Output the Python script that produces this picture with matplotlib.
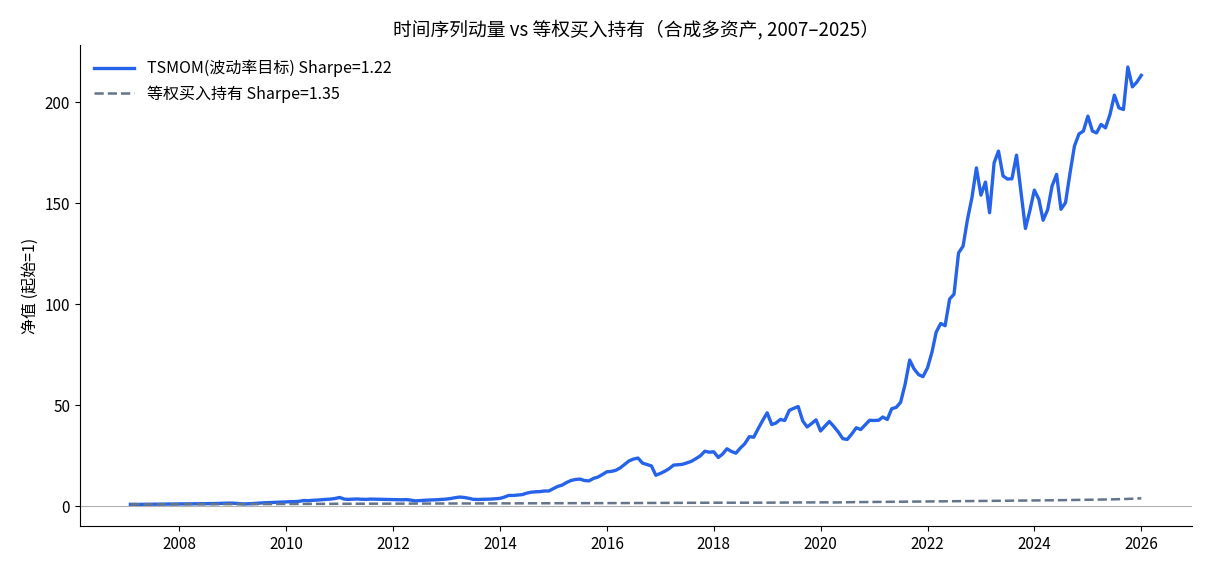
import matplotlib
matplotlib.use("Agg")
import matplotlib.pyplot as plt
import matplotlib.dates as mdates
import numpy as np
import pandas as pd

plt.rcParams['font.family'] = ['Noto Sans CJK SC', 'DejaVu Sans']
plt.rcParams['axes.unicode_minus'] = False

# month-end dates, Jan 2007 .. Dec 2025
start_month = '2007-01-31'
n_months = 228

# TSMOM (vol target) net value, one row per year
tsmom = [
    1.00, 1.02, 0.98, 1.03, 1.05, 1.04, 1.08, 1.10, 1.07, 1.12, 1.15, 1.13,
    1.18, 1.20, 1.22, 1.25, 1.28, 1.32, 1.35, 1.38, 1.45, 1.55, 1.60, 1.58,
    1.40, 1.25, 1.20, 1.30, 1.45, 1.60, 1.75, 1.85, 1.95, 2.05, 2.10, 2.20,
    2.30, 2.35, 2.50, 2.90, 2.80, 3.00, 3.10, 3.30, 3.45, 3.60, 3.90, 4.40,
    3.60, 3.45, 3.55, 3.65, 3.50, 3.45, 3.60, 3.55, 3.45, 3.50, 3.40, 3.30,
    3.30, 3.25, 3.35, 3.10, 2.70, 2.85, 3.00, 3.10, 3.20, 3.30, 3.45, 3.60,
    3.90, 4.30, 4.60, 4.40, 4.00, 3.50, 3.40, 3.45, 3.50, 3.60, 3.75, 3.95,
    4.60, 5.40, 5.40, 5.60, 5.80, 6.50, 7.00, 7.20, 7.30, 7.60, 7.60, 8.80,
    9.9, 10.5, 11.8, 12.8, 13.3, 13.5, 12.8, 12.6, 13.8, 14.5, 15.7, 17.1,
    17.3, 17.8, 19.0, 20.7, 22.5, 23.4, 23.9, 21.4, 20.7, 20.0, 15.4, 16.3,
    17.4, 18.6, 20.4, 20.6, 20.8, 21.5, 22.3, 23.6, 25.0, 27.3, 26.8, 27.0,
    24.2, 25.8, 28.5, 27.2, 26.3, 28.8, 31.0, 34.5, 34.2, 38.5, 42.5, 46.3,
    40.5, 41.2, 43.0, 42.5, 47.5, 48.5, 49.4, 42.3, 39.3, 41.0, 42.8, 37.3,
    39.8, 42.0, 39.5, 36.8, 33.5, 33.1, 35.8, 38.9, 38.0, 40.3, 42.6, 42.5,
    42.6, 44.2, 43.0, 48.3, 49.0, 51.5, 60.5, 72.4, 68.0, 65.2, 64.2, 68.6,
    76.5, 86.2, 90.5, 89.4, 102.6, 105.0, 125.4, 128.8, 142.0, 153.0, 167.5, 154.0,
    160.5, 145.3, 170.0, 175.8, 163.5, 162.0, 162.1, 173.8, 156.0, 137.5, 146.2, 156.5,
    151.9, 141.6, 146.8, 158.5, 164.3, 147.0, 150.3, 165.0, 178.3, 184.3, 185.7, 193.1,
    185.7, 184.8, 189.0, 187.3, 193.9, 203.5, 197.2, 196.4, 217.4, 207.6, 209.9, 213.3,
]

# equal-weight buy and hold
eq_bh = [
    1.00, 1.01, 1.01, 1.02, 1.03, 1.03, 1.04, 1.04, 1.05, 1.06, 1.06, 1.07,
    1.07, 1.08, 1.08, 1.09, 1.10, 1.09, 1.08, 1.09, 1.07, 1.05, 1.06, 1.08,
    1.07, 1.06, 1.08, 1.10, 1.12, 1.12, 1.14, 1.15, 1.16, 1.16, 1.18, 1.18,
    1.19, 1.20, 1.21, 1.22, 1.20, 1.21, 1.23, 1.24, 1.25, 1.26, 1.26, 1.27,
    1.28, 1.29, 1.29, 1.31, 1.31, 1.30, 1.31, 1.32, 1.31, 1.33, 1.33, 1.34,
    1.35, 1.36, 1.36, 1.37, 1.36, 1.37, 1.38, 1.39, 1.40, 1.40, 1.41, 1.41,
    1.42, 1.42, 1.43, 1.44, 1.42, 1.41, 1.42, 1.43, 1.44, 1.45, 1.45, 1.46,
    1.47, 1.48, 1.48, 1.49, 1.50, 1.51, 1.51, 1.52, 1.52, 1.53, 1.54, 1.55,
    1.56, 1.56, 1.57, 1.57, 1.58, 1.57, 1.58, 1.56, 1.56, 1.58, 1.58, 1.58,
    1.59, 1.60, 1.62, 1.63, 1.63, 1.65, 1.66, 1.66, 1.67, 1.66, 1.66, 1.68,
    1.69, 1.70, 1.71, 1.72, 1.73, 1.74, 1.75, 1.76, 1.77, 1.78, 1.79, 1.80,
    1.81, 1.79, 1.79, 1.80, 1.81, 1.81, 1.82, 1.83, 1.83, 1.82, 1.82, 1.81,
    1.84, 1.86, 1.88, 1.89, 1.88, 1.91, 1.93, 1.94, 1.95, 1.96, 1.97, 1.99,
    2.00, 1.98, 1.92, 1.97, 2.00, 2.03, 2.07, 2.09, 2.08, 2.08, 2.13, 2.16,
    2.17, 2.18, 2.20, 2.24, 2.26, 2.28, 2.30, 2.32, 2.30, 2.34, 2.35, 2.38,
    2.40, 2.42, 2.46, 2.47, 2.49, 2.51, 2.54, 2.55, 2.56, 2.59, 2.62, 2.64,
    2.66, 2.68, 2.71, 2.73, 2.75, 2.77, 2.80, 2.81, 2.82, 2.84, 2.87, 2.90,
    2.92, 2.95, 2.98, 3.00, 3.03, 3.06, 3.10, 3.13, 3.14, 3.17, 3.21, 3.25,
    3.28, 3.31, 3.33, 3.38, 3.43, 3.48, 3.54, 3.60, 3.68, 3.78, 3.88, 3.98,
]

label_tsmom = 'TSMOM(波动率目标) Sharpe=1.22'
label_eq = '等权买入持有 Sharpe=1.35'

dates = pd.date_range(start_month, periods=n_months, freq='ME')

fig, ax = plt.subplots(figsize=(12.1, 5.72), dpi=100)
fig.subplots_adjust(left=0.066, right=0.985, top=0.921, bottom=0.080)

ax.plot(dates, tsmom, color='#2563eb', lw=2.4, label=label_tsmom)
ax.plot(dates, eq_bh, color='#64748b', lw=1.8, ls='--', label=label_eq)
ax.axhline(0, color='#b0b0b0', lw=0.8, zorder=0)

ax.xaxis.set_major_locator(mdates.YearLocator(2))
ax.xaxis.set_major_formatter(mdates.DateFormatter('%Y'))

ax.set_title('时间序列动量 vs 等权买入持有（合成多资产, 2007–2025）', fontsize=13.5, pad=7)
ax.set_ylabel('净值 (起始=1)', fontsize=11.5)
ax.tick_params(labelsize=11)

for s in ['top', 'right']:
    ax.spines[s].set_visible(False)

ax.legend(loc='upper left', frameon=False, fontsize=11.5, handlelength=2.5)

fig.savefig('out.png', dpi=100)
